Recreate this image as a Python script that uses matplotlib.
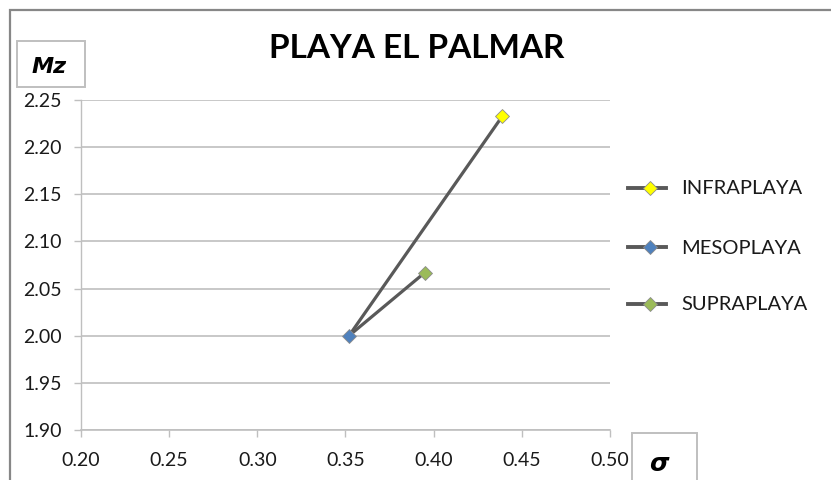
import matplotlib
matplotlib.use("Agg")
import matplotlib.pyplot as plt
from matplotlib.lines import Line2D
from matplotlib.patches import Rectangle

# ---- data ----
categories = ["INFRAPLAYA", "MESOPLAYA", "SUPRAPLAYA"]
sigma = [0.439, 0.352, 0.395]
mz = [2.233, 2.000, 2.067]
marker_colors = ["#FFFF00", "#4F81BD", "#9BBB59"]
origin_index = 1  # MESOPLAYA is the common starting point of the lines
x_ticks = [0.20, 0.25, 0.30, 0.35, 0.40, 0.45, 0.50]
y_ticks = [1.90, 1.95, 2.00, 2.05, 2.10, 2.15, 2.20, 2.25]
title = "PLAYA EL PALMAR"

W, H = 831, 480
fig = plt.figure(figsize=(W / 100, H / 100), dpi=100)
plt.rcParams['font.family'] = ['Lato', 'DejaVu Sans']

def fx(px):
    return px / W

def fy(py):
    return 1 - py / H

left, right, top, bottom = 81, 610, 100, 430
ax = fig.add_axes([fx(left), fy(bottom), (right - left) / W, (bottom - top) / H])

line_color = "#595959"
grid_color = "#BFBFBF"

# lines from origin to each other point
for i in range(len(categories)):
    if i == origin_index:
        continue
    ax.plot([sigma[origin_index], sigma[i]], [mz[origin_index], mz[i]],
            color=line_color, lw=2.3, solid_capstyle='round', zorder=3)
for i in range(len(categories)):
    ax.plot([sigma[i]], [mz[i]], marker='D', ms=7.2, mfc=marker_colors[i],
            mec="#8C8C8C", mew=0.6, ls='none', zorder=4)

ax.set_xlim(x_ticks[0], x_ticks[-1])
ax.set_ylim(y_ticks[0], y_ticks[-1])
ax.set_xticks(x_ticks)
ax.set_yticks(y_ticks)
ax.set_xticklabels([f"{v:.2f}" for v in x_ticks])
ax.set_yticklabels([f"{v:.2f}" for v in y_ticks])
ax.tick_params(axis='both', labelsize=14, colors="#000000", length=5,
               width=1, direction='out')
ax.tick_params(axis='both', color=grid_color)
ax.tick_params(axis='x', pad=11)
ax.tick_params(axis='y', pad=9)
for t in ax.get_xticklabels() + ax.get_yticklabels():
    t.set_color("#1a1a1a")
ax.yaxis.grid(True, color=grid_color, lw=1.2)
ax.set_axisbelow(True)
for s in ['top', 'right']:
    ax.spines[s].set_visible(False)
ax.spines['left'].set_color(grid_color)
ax.spines['bottom'].set_color(grid_color)
ax.spines['left'].set_linewidth(1.0)
ax.spines['bottom'].set_linewidth(1.2)

# outer chart border
fig.add_artist(Rectangle((fx(10), fy(490)), (840 - 10) / W, (490 - 10) / H,
                         transform=fig.transFigure, fill=False,
                         edgecolor="#878787", lw=1.6))

# title
fig.text(fx(417), fy(49), title, ha='center', va='center', fontsize=24,
         fontweight='bold', color='black')

# Mz box
fig.add_artist(Rectangle((fx(17), fy(87)), (85 - 17) / W, (87 - 41) / H,
                         transform=fig.transFigure, fill=False,
                         edgecolor="#BFBFBF", lw=1.4))
fig.text(fx(49), fy(67), "Mz", ha='center', va='center', fontsize=16,
         fontweight='bold', fontstyle='italic', color='black',
         family=['DejaVu Sans'])

# sigma box
fig.add_artist(Rectangle((fx(632), fy(490)), (697 - 632) / W, (490 - 433) / H,
                         transform=fig.transFigure, fill=False,
                         edgecolor="#BFBFBF", lw=1.4))
fig.text(fx(659), fy(464), "σ", ha='center', va='center', fontsize=18,
         fontweight='bold', fontstyle='italic', color='black',
         family=['DejaVu Sans'])

# legend (manual)
leg_y = [188, 247, 304]
for i, name in enumerate(categories):
    y = leg_y[i]
    fig.add_artist(Line2D([fx(628), fx(666)], [fy(y), fy(y)],
                          transform=fig.transFigure, color=line_color, lw=2.8))
    fig.add_artist(Line2D([fx(650)], [fy(y)], transform=fig.transFigure,
                          marker='D', ms=7, mfc=marker_colors[i],
                          mec="#8C8C8C", mew=0.6, ls='none'))
    fig.text(fx(681), fy(y + 1), name, ha='left', va='center', fontsize=14.5,
             color='#1a1a1a')

fig.savefig("out.png", dpi=100)
